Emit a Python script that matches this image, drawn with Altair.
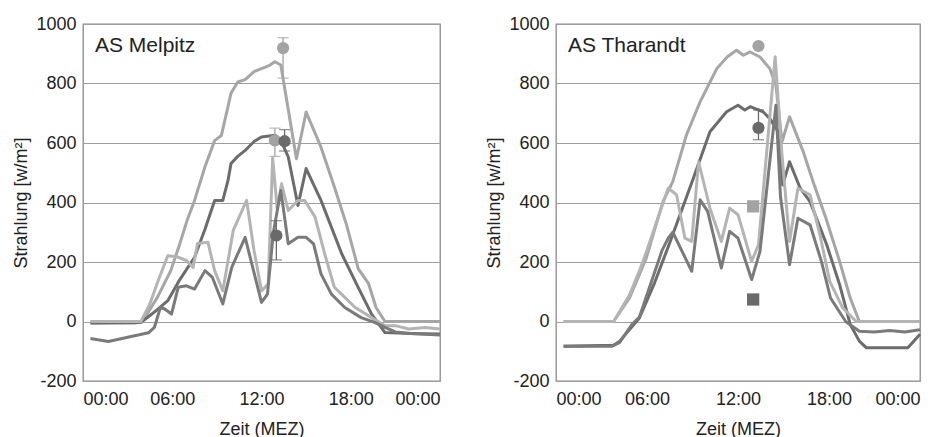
import altair as alt
import pandas as pd

FONT = "Liberation Sans"

# ---------------- AS Melpitz ----------------
mel_hell_dick_h = [0.5, 3.5, 4.0, 5.0, 5.9, 6.5, 7.0, 7.5, 8.2, 8.85, 9.3, 9.95, 10.4, 10.9, 11.5, 12.0, 12.5, 12.9, 13.3, 14.35, 15.0, 15.5, 16.0, 16.9, 17.7, 18.5, 19.2, 19.7, 20.3, 24.0]
mel_hell_dick_v = [-5, -5, 0, 81, 171, 260, 340, 407, 520, 608, 625, 767, 805, 813, 840, 850, 860, 873, 862, 547, 704, 645, 586, 452, 328, 178, 127, 47, 0, 0]

mel_dunkel_dick_h = [0.5, 3.9, 4.5, 5.0, 5.7, 6.5, 7.5, 8.2, 8.85, 9.4, 9.75, 9.95, 10.4, 10.9, 11.5, 12.0, 12.9, 13.3, 13.8, 14.45, 15.0, 16.0, 17.4, 18.5, 19.4, 20.3, 22.0, 24.0]
mel_dunkel_dick_v = [-5, -3, 20, 40, 70, 140, 216, 310, 407, 407, 474, 531, 555, 575, 605, 620, 626, 610, 553, 390, 514, 407, 227, 115, 25, -37, -40, -42]

mel_hell_duenn_h = [0.5, 3.9, 4.5, 5.0, 5.7, 6.3, 6.95, 7.4, 7.7, 8.4, 8.85, 9.4, 10.1, 11.0, 11.5, 12.0, 12.45, 12.75, 13.05, 13.35, 13.8, 14.45, 14.9, 15.6, 16.25, 16.9, 17.6, 18.3, 19.4, 20.3, 21.0, 21.9, 23.0, 24.0]
mel_hell_duenn_v = [0, 0, 60, 130, 221, 218, 205, 182, 262, 266, 171, 103, 306, 407, 238, 103, 126, 550, 380, 463, 373, 407, 407, 351, 227, 115, 81, 47, 13, -14, -14, -25, -20, -25]

mel_dunkel_duenn_h = [0.5, 1.7, 4.4, 4.8, 5.2, 5.5, 5.95, 6.4, 6.95, 7.5, 8.2, 8.7, 9.4, 10.0, 10.9, 12.0, 12.4, 12.8, 13.3, 13.8, 14.45, 15.0, 15.5, 16.0, 16.7, 17.6, 18.7, 19.6, 20.3, 21.0, 22.0, 24.0]
mel_dunkel_duenn_v = [-57, -67, -38, -20, 47, 42, 25, 115, 120, 109, 171, 148, 59, 182, 283, 64, 92, 300, 440, 261, 283, 283, 261, 160, 92, 47, 13, -3, -20, -35, -40, -45]

mel_pkt_h = [12.9, 13.45, 13.55, 13.0]
mel_pkt_v = [609, 919, 606, 289]
mel_pkt_lo = [555, 818, 573, 207]
mel_pkt_hi = [650, 954, 645, 339]
mel_pkt_ton = ["hell", "hell", "dunkel", "dunkel"]
mel_pkt_form = ["Kreis", "Kreis", "Kreis", "Kreis"]

# ---------------- AS Tharandt ----------------
tha_hell_dick_h = [0.5, 3.8, 4.85, 5.95, 7.05, 7.7, 8.6, 9.5, 10.6, 11.3, 11.9, 12.35, 12.8, 13.45, 14.1, 14.5, 14.9, 15.4, 16.3, 16.95, 17.8, 18.7, 19.4, 20.0, 24.0]
tha_hell_dick_v = [0, 0, 79, 213, 403, 470, 627, 738, 850, 890, 912, 895, 906, 889, 850, 794, 604, 688, 571, 470, 347, 202, 79, 0, 0]

tha_dunkel_dick_h = [0.5, 3.8, 4.2, 5.5, 6.5, 7.5, 8.4, 9.05, 10.15, 11.25, 12.0, 12.45, 12.8, 13.65, 14.1, 14.65, 14.95, 15.4, 16.1, 16.75, 17.85, 18.7, 19.4, 20.0, 20.45, 23.2, 24.0]
tha_dunkel_dick_v = [-83, -80, -66, 12, 130, 265, 390, 481, 638, 705, 727, 711, 722, 705, 682, 638, 459, 537, 448, 403, 258, 124, -10, -66, -88, -88, -43]

tha_hell_duenn_h = [0.5, 3.8, 4.85, 5.5, 6.0, 6.6, 7.4, 7.95, 8.5, 8.95, 9.4, 10.15, 10.9, 11.45, 12.0, 12.9, 13.35, 14.45, 14.9, 15.4, 15.95, 16.75, 17.4, 18.05, 18.9, 19.8, 24.0]
tha_hell_duenn_v = [0, 0, 90, 170, 240, 330, 448, 426, 280, 269, 537, 381, 269, 381, 359, 202, 258, 890, 560, 269, 448, 426, 292, 135, 46, 0, 0]

tha_dunkel_duenn_h = [0.5, 3.7, 4.2, 5.0, 5.5, 6.2, 7.0, 7.4, 7.7, 8.95, 9.5, 10.0, 10.9, 11.45, 12.0, 12.9, 13.45, 14.5, 14.8, 15.4, 15.95, 16.75, 17.5, 18.1, 19.1, 20.0, 21.0, 22.0, 23.0, 24.0]
tha_dunkel_duenn_v = [-83, -83, -70, -10, 15, 120, 240, 280, 300, 169, 409, 370, 180, 303, 280, 141, 236, 727, 420, 191, 347, 325, 202, 79, 0, -33, -35, -30, -35, -28]

tha_pkt_h = [13.35, 13.35, 13.0, 13.0]
tha_pkt_v = [926, 651, 387, 74]
tha_pkt_lo = [918, 611, 372, 66]
tha_pkt_hi = [934, 711, 402, 82]
tha_pkt_ton = ["hell", "dunkel", "hell", "dunkel"]
tha_pkt_form = ["Kreis", "Kreis", "Quadrat", "Quadrat"]

serien = ["hell_dick", "dunkel_dick", "hell_duenn", "dunkel_duenn"]
serien_farbe = ["#a6a6a6", "#6c6c6c", "#b4b4b4", "#7a7a7a"]
serien_breite = [3.0, 3.0, 1.4, 1.4]


def lines_df(hs, vs):
    rows = []
    for s, h, v in zip(serien, hs, vs):
        for a, b in zip(h, v):
            rows.append({"s": s, "h": a, "v": b})
    return pd.DataFrame(rows)


def panel(name, hs, vs, ph, pv, plo, phi, pton, pform, width):
    ld = lines_df(hs, vs)
    pd_ = pd.DataFrame({"h": ph, "v": pv, "lo": plo, "hi": phi, "ton": pton, "form": pform})
    xenc = alt.X("h:Q", scale=alt.Scale(domain=[0, 24], nice=False, zero=False),
                 axis=alt.Axis(values=[0, 6, 12, 18, 24],
                               labelExpr="datum.value == 24 ? '00:00' : (datum.value < 10 ? '0' : '') + datum.value + ':00'",
                               title="Zeit (MEZ)", grid=False, domain=False, ticks=False,
                               labelPadding=9, titlePadding=12))
    yenc = alt.Y("v:Q", scale=alt.Scale(domain=[-200, 1000], nice=False),
                 axis=alt.Axis(values=[-200, 0, 200, 400, 600, 800, 1000],
                               labelExpr="'' + datum.value",
                               title="Strahlung [w/m²]", grid=True, gridColor="#9e9e9e",
                               gridWidth=1.2, domain=False, ticks=False, labelPadding=7,
                               titlePadding=5))
    lines = alt.Chart(ld).mark_line(strokeJoin="round").encode(
        x=xenc, y=yenc,
        color=alt.Color("s:N", scale=alt.Scale(domain=serien, range=serien_farbe), legend=None),
        strokeWidth=alt.StrokeWidth("s:N", scale=alt.Scale(domain=serien, range=serien_breite), legend=None),
        detail="s:N",
    )
    layers = [lines]
    for ton, col in [("hell", "#a3a3a3"), ("dunkel", "#6a6a6a")]:
        base = alt.Chart(pd_).transform_filter(alt.datum.ton == ton)
        layers.append(base.mark_rule(strokeWidth=1.3, color=col).encode(x="h:Q", y="lo:Q", y2="hi:Q"))
        layers.append(base.mark_tick(orient="horizontal", size=11, thickness=1.3, color=col).encode(x="h:Q", y="lo:Q"))
        layers.append(base.mark_tick(orient="horizontal", size=11, thickness=1.3, color=col).encode(x="h:Q", y="hi:Q"))
        layers.append(base.mark_point(filled=True, size=150, opacity=1, color=col).encode(
            x="h:Q", y="v:Q",
            shape=alt.Shape("form:N", scale=alt.Scale(domain=["Kreis", "Quadrat"], range=["circle", "square"]), legend=None)))
    label = alt.Chart(pd.DataFrame({"t": [name]})).mark_text(
        align="left", baseline="middle", fontSize=21, font=FONT, color="#222222"
    ).encode(x=alt.value(12), y=alt.value(22), text="t:N")
    layers.append(label)
    return alt.layer(*layers).properties(width=width, height=357)


left = panel("AS Melpitz",
             [mel_hell_dick_h, mel_dunkel_dick_h, mel_hell_duenn_h, mel_dunkel_duenn_h],
             [mel_hell_dick_v, mel_dunkel_dick_v, mel_hell_duenn_v, mel_dunkel_duenn_v],
             mel_pkt_h, mel_pkt_v, mel_pkt_lo, mel_pkt_hi, mel_pkt_ton, mel_pkt_form, 357)
right = panel("AS Tharandt",
              [tha_hell_dick_h, tha_dunkel_dick_h, tha_hell_duenn_h, tha_dunkel_duenn_h],
              [tha_hell_dick_v, tha_dunkel_dick_v, tha_hell_duenn_v, tha_dunkel_duenn_v],
              tha_pkt_h, tha_pkt_v, tha_pkt_lo, tha_pkt_hi, tha_pkt_ton, tha_pkt_form, 364)

chart = alt.hconcat(left, right, spacing=42).properties(
    padding={"left": 12, "top": 14, "right": 5, "bottom": 0},
    background="#ffffff",
).configure_view(stroke="#8a8a8a", strokeWidth=1.3).configure_axis(
    labelFont=FONT, titleFont=FONT, labelFontSize=18, titleFontSize=18,
    labelColor="#222222", titleColor="#222222", titleFontWeight="normal",
)

chart.save("out.html", embed_options={"renderer": "svg", "actions": False})
